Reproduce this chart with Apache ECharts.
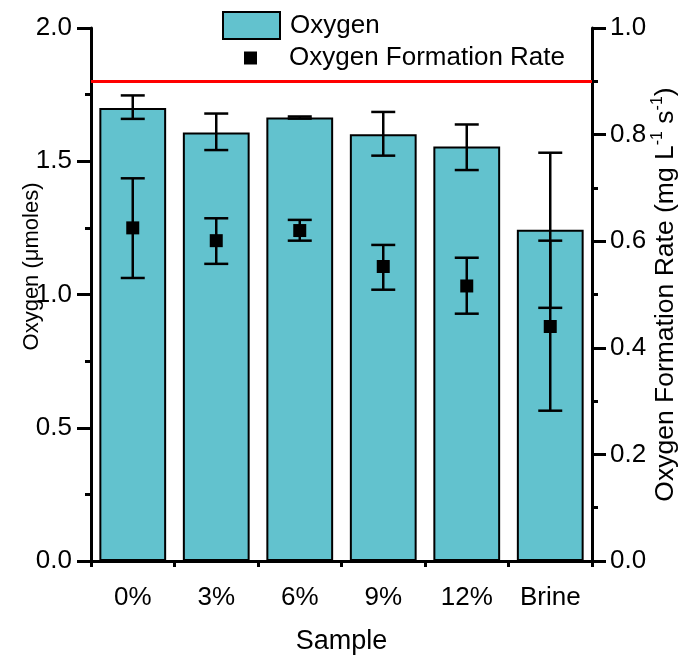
<!DOCTYPE html>
<html><head><meta charset="utf-8">
<script src="https://cdn.jsdelivr.net/npm/echarts@6/dist/echarts.min.js"></script>
<style>html,body{margin:0;padding:0;background:#fff}#c{width:678px;height:655px}</style>
</head><body><div id="c"></div>
<script>
const categories = ['0%', '3%', '6%', '9%', '12%', 'Brine'];
const oxygen = [1.70, 1.608, 1.664, 1.601, 1.555, 1.243];
const oxygenLow = [1.659, 1.542, 1.660, 1.521, 1.467, 0.95];
const oxygenHigh = [1.747, 1.679, 1.668, 1.685, 1.638, 1.532];
const rate = [0.625, 0.601, 0.620, 0.5525, 0.516, 0.440];
const rateLow = [0.531, 0.5575, 0.601, 0.509, 0.464, 0.282];
const rateHigh = [0.718, 0.643, 0.640, 0.593, 0.569, 0.601];
const referenceLevel = 1.8;

const FONT = 'Liberation Sans, Arial, sans-serif';
const chart = echarts.init(document.getElementById('c'), null, {renderer: 'canvas'});

function errorBar(params, api) {
  const x = api.value(0);
  const lo = api.coord([x, api.value(1)]);
  const hi = api.coord([x, api.value(2)]);
  const half = 12;
  const style = {stroke: '#000', lineWidth: 2.5};
  return {type: 'group', children: [
    {type: 'line', shape: {x1: lo[0], y1: lo[1], x2: hi[0], y2: hi[1]}, style: style},
    {type: 'line', shape: {x1: lo[0] - half, y1: lo[1], x2: lo[0] + half, y2: lo[1]}, style: style},
    {type: 'line', shape: {x1: hi[0] - half, y1: hi[1], x2: hi[0] + half, y2: hi[1]}, style: style}
  ]};
}

const axisLineStyle = {color: '#000', width: 3};

const option = {
  animation: false,
  backgroundColor: '#fff',
  textStyle: {fontFamily: FONT},
  grid: {left: 91, right: 86, top: 28, bottom: 94, containLabel: false, outerBoundsMode: 'none'},
  legend: [
    {
      left: 222, top: 11, padding: 0, orient: 'vertical',
      itemWidth: 57, itemHeight: 27,
      selectedMode: false,
      textStyle: {fontFamily: FONT, fontSize: 26, color: '#000', padding: [0, 0, 0, 5]},
      data: [{name: 'Oxygen', icon: 'rect', itemStyle: {color: '#62C2CE', borderColor: '#000', borderWidth: 2}}]
    },
    {
      left: 244, top: 45, padding: 0, orient: 'vertical',
      itemWidth: 57, itemHeight: 13, symbolKeepAspect: true,
      selectedMode: false,
      textStyle: {fontFamily: FONT, fontSize: 26, color: '#000', lineHeight: 26, padding: [0, 0, 0, 5]},
      data: [{name: 'Oxygen Formation Rate', icon: 'path://M0,0H10V10H0Z', itemStyle: {color: '#000'}}]
    }
  ],
  xAxis: [
    {
      type: 'category', data: categories, position: 'bottom',
      name: 'Sample', nameLocation: 'middle', nameGap: 67,
      nameTextStyle: {fontFamily: FONT, fontSize: 27, color: '#000'},
      axisLine: {lineStyle: axisLineStyle},
      axisTick: {alignWithLabel: true, length: 13, lineStyle: {color: '#000', width: 3}},
      axisLabel: {fontFamily: FONT, fontSize: 26, color: '#000', margin: 24},
      splitLine: {show: false}
    },
    {
      type: 'category', data: categories, position: 'bottom',
      axisLine: {show: false},
      axisTick: {show: true, length: 6, lineStyle: {color: '#000', width: 3}},
      axisLabel: {show: false},
      splitLine: {show: false}
    }
  ],
  yAxis: [
    {
      type: 'value', min: 0, max: 2, interval: 0.5, position: 'left',
      name: '{a|Oxygen (\u03bcmoles)}', nameLocation: 'middle', nameGap: 47, nameMoveOverlap: false,
      nameTextStyle: {
        fontFamily: FONT, color: '#000', padding: [0, 0, 0, 56],
        rich: {a: {fontFamily: FONT, fontSize: 22, color: '#000', lineHeight: 25}}
      },
      axisLine: {show: true, lineStyle: axisLineStyle},
      axisTick: {show: true, length: 14, lineStyle: {color: '#000', width: 3}},
      minorTick: {show: true, splitNumber: 2, length: 6, lineStyle: {color: '#000', width: 3}},
      axisLabel: {fontFamily: FONT, fontSize: 26, color: '#000', margin: 19, formatter: v => v.toFixed(1)},
      splitLine: {show: false}
    },
    {
      type: 'value', min: 0, max: 1, interval: 0.2, position: 'right',
      name: '{a|Oxygen Formation Rate (mg L}{s|-1}{a| s}{s|-1}{a|)}',
      nameLocation: 'middle', nameGap: 58, nameMoveOverlap: false,
      nameTextStyle: {
        fontFamily: FONT, color: '#000',
        rich: {
          a: {fontFamily: FONT, fontSize: 26.5, color: '#000', lineHeight: 29, verticalAlign: 'bottom'},
          s: {fontFamily: FONT, fontSize: 16, color: '#000', lineHeight: 29, verticalAlign: 'top'}
        }
      },
      axisLine: {show: true, lineStyle: axisLineStyle},
      axisTick: {show: true, length: 14, lineStyle: {color: '#000', width: 3}},
      minorTick: {show: true, splitNumber: 2, length: 6, lineStyle: {color: '#000', width: 3}},
      axisLabel: {fontFamily: FONT, fontSize: 26, color: '#000', margin: 18, formatter: v => v.toFixed(1)},
      splitLine: {show: false}
    }
  ],
  series: [
    {
      name: 'Oxygen', type: 'bar', xAxisIndex: 0, yAxisIndex: 0,
      data: oxygen, barCategoryGap: '20%',
      itemStyle: {color: '#62C2CE', borderColor: '#000', borderWidth: 2},
      markLine: {
        silent: true, symbol: ['none', 'none'],
        label: {show: false},
        lineStyle: {color: '#ff0000', width: 3, type: 'solid'},
        data: [{yAxis: referenceLevel}]
      },
      z: 2
    },
    {
      name: 'OxygenErr', type: 'custom', xAxisIndex: 0, yAxisIndex: 0,
      renderItem: errorBar, encode: {x: 0, y: [1, 2]},
      data: categories.map((c, i) => [i, oxygenLow[i], oxygenHigh[i]]),
      z: 3
    },
    {
      name: 'RateErr', type: 'custom', xAxisIndex: 0, yAxisIndex: 1,
      renderItem: errorBar, encode: {x: 0, y: [1, 2]},
      data: categories.map((c, i) => [i, rateLow[i], rateHigh[i]]),
      z: 4
    },
    {
      name: 'Oxygen Formation Rate', type: 'scatter', xAxisIndex: 0, yAxisIndex: 1,
      data: rate, symbol: 'rect', symbolSize: 13,
      itemStyle: {color: '#000', opacity: 1},
      z: 5
    }
  ]
};
chart.setOption(option);
</script>
</body></html>
